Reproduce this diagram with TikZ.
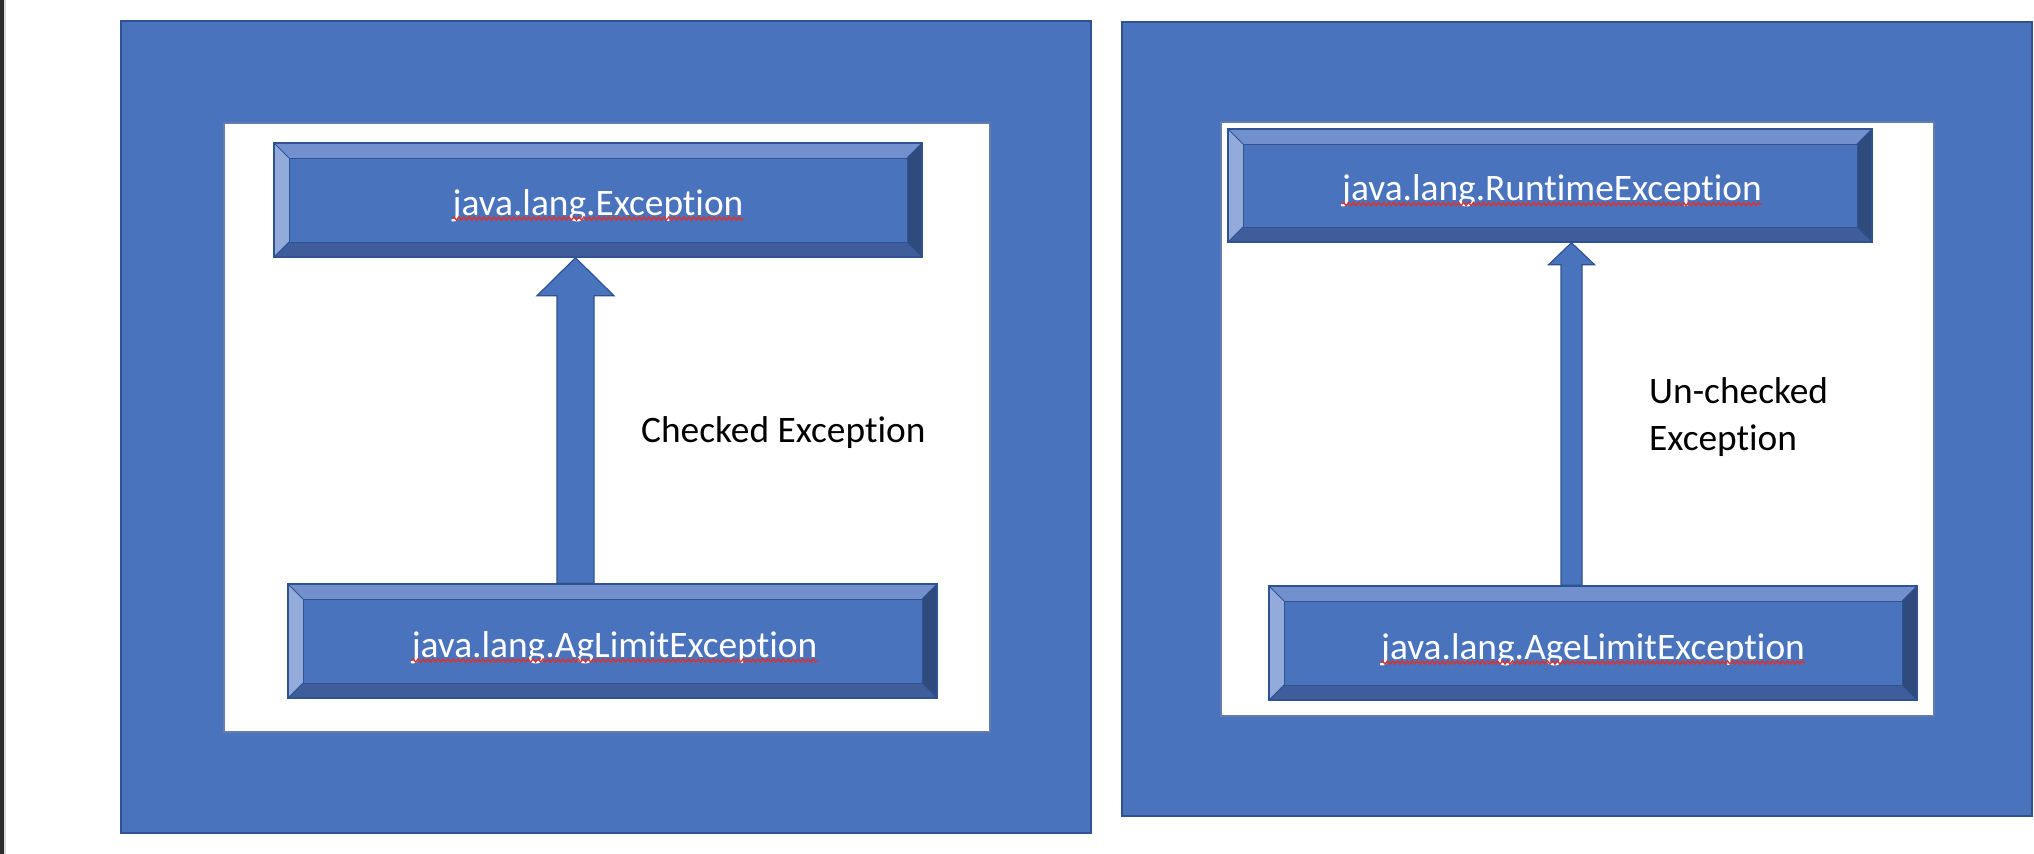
\documentclass[tikz,border=0pt]{standalone}
\usepackage{fontspec}
\setmainfont{Carlito}[Ligatures=NoCommon]
\usetikzlibrary{calc,decorations.pathmorphing}
\definecolor{office}{HTML}{4A73BE}
\definecolor{officeedge}{HTML}{2F5290}
\definecolor{beveltop}{HTML}{7190CD}
\definecolor{bevelleft}{HTML}{93ABDA}
\definecolor{bevelright}{HTML}{2F4B7E}
\definecolor{bevelbottom}{HTML}{3E5D9A}
\definecolor{spellred}{HTML}{E0302A}

\tikzset{
  panel/.style={fill=office,draw=officeedge,line width=2bp},
  canvas/.style={fill=white,draw=officeedge!75,line width=1.2bp},
  bevelbox/.style={rectangle,fill=office,draw=officeedge,line width=1.5bp,
    inner sep=0pt,minimum height=114bp,
    path picture={
      \coordinate (nw) at (path picture bounding box.north west);
      \coordinate (ne) at (path picture bounding box.north east);
      \coordinate (sw) at (path picture bounding box.south west);
      \coordinate (se) at (path picture bounding box.south east);
      \fill[beveltop] (nw) -- (ne) -- ([shift={(-15bp,-15bp)}]ne) -- ([shift={(15bp,-15bp)}]nw) -- cycle;
      \fill[bevelleft] (nw) -- ([shift={(15bp,-15bp)}]nw) -- ([shift={(15bp,15bp)}]sw) -- (sw) -- cycle;
      \fill[bevelright] (ne) -- ([shift={(-15bp,-15bp)}]ne) -- ([shift={(-15bp,15bp)}]se) -- (se) -- cycle;
      \fill[bevelbottom] (sw) -- ([shift={(15bp,15bp)}]sw) -- ([shift={(-15bp,15bp)}]se) -- (se) -- cycle;
      \draw[officeedge,line width=0.8bp] ([shift={(15bp,-15bp)}]nw) rectangle ([shift={(-15bp,15bp)}]se);
      \draw[officeedge,line width=0.8bp] (nw) -- ++(15bp,-15bp) (ne) -- ++(-15bp,-15bp)
        (sw) -- ++(15bp,15bp) (se) -- ++(-15bp,15bp);
    }},
  classname/.style={text=white,inner sep=0pt,anchor=base,font=\fontsize{37.5}{47}\selectfont},
  note/.style={text=black,inner sep=0pt,anchor=base west,align=left,font=\fontsize{37.5}{47}\selectfont},
  spell/.style={spellred,line width=1.3bp,decorate,decoration={snake,amplitude=1.6bp,segment length=5bp}},
  blockarrow/.style={fill=office,draw=officeedge,line width=1.2bp,line join=miter},
}

\begin{document}
\begin{tikzpicture}[x=1bp,y=-1bp]
  \useasboundingbox (0,0) rectangle (2034,854);
  % window edge on the far left
  \fill[black!83] (0,0) rectangle (4,854);
  \fill[black!14] (4,0) rectangle (6,854);
  % Two slides: checked (left), un-checked (right).
  \draw[panel]  (121,21)  rectangle (1091,833);
  \draw[canvas] (224,123) rectangle (990,732);
  \draw[panel]  (1122,22) rectangle (2032,816);
  \draw[canvas] (1221,122) rectangle (1934,716);
  % Bevelled class boxes.
  \node[bevelbox,minimum width=648bp] (lexc) at (598,200) {};
  \node[bevelbox,minimum width=649bp] (lsub) at (612.5,641) {};
  \node[bevelbox,minimum width=644bp,minimum height=113bp] (rexc) at (1550,185.5) {};
  \node[bevelbox,minimum width=648bp] (rsub) at (1593,643) {};
  % Class names, each with its spell-check squiggle.
  \node[classname] (lexct) at ($(lexc.center)+(0,15)$) {java.lang.Exception};
  \node[classname] (lsubt) at ($(lsub.center)+(2,16)$) {java.lang.AgLimitException};
  \node[classname] (rexct) at ($(rexc.center)+(2,15)$) {java.lang.RuntimeException};
  \node[classname] (rsubt) at ($(rsub.center)+(0,16)$) {java.lang.AgeLimitException};
  \foreach \t in {lexct,lsubt,rexct,rsubt}
    \draw[spell] ([yshift=-3.5bp]\t.base west) -- ([yshift=-3.5bp]\t.base east);
  % Block arrows from subclass up to superclass.
  \coordinate (lax) at (575.5,0);
  \coordinate (rax) at (1571.5,0);
  \foreach \ax/\hi/\lo/\sh/\hh/\hl in {lax/lexc/lsub/18.5/38.5/38, rax/rexc/rsub/10.5/23/22}
    \filldraw[blockarrow] ($(\ax |- \lo.north)+(-\sh,0)$) -- ($(\ax |- \hi.south)+(-\sh,\hl)$)
      -- ($(\ax |- \hi.south)+(-\hh,\hl)$) -- (\ax |- \hi.south) -- ($(\ax |- \hi.south)+(\hh,\hl)$)
      -- ($(\ax |- \hi.south)+(\sh,\hl)$) -- ($(\ax |- \lo.north)+(\sh,0)$) -- cycle;
  % Arrow captions.
  \node[note] (chk) at (641,442) {Checked Exception};
  \node[note] (unchk) at (1649,450) {Un-checked\\Exception};
\end{tikzpicture}
\end{document}
